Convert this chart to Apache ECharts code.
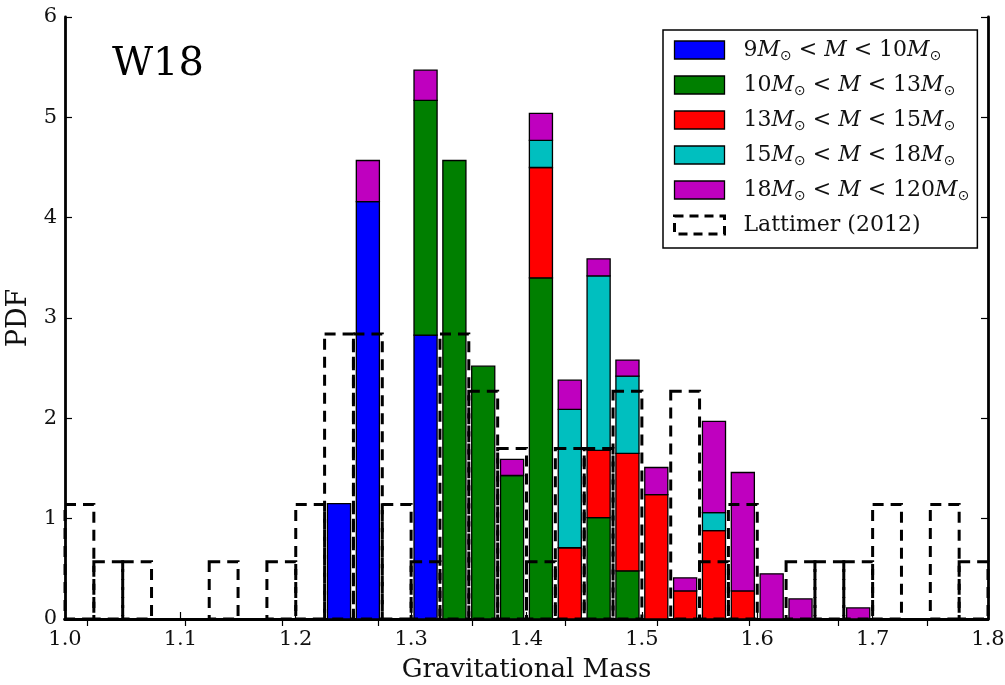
<!DOCTYPE html>
<html>
<head>
<meta charset="utf-8">
<script src="https://cdn.jsdelivr.net/npm/echarts@6/dist/echarts.min.js"></script>
<style>
html,body{margin:0;padding:0;background:#fff;}
#chart{width:1005px;height:685px;}
</style>
</head>
<body>
<div id="chart"></div>
<script>
// ---------------- data ----------------
const binCenters = [1.2375, 1.2625, 1.2875, 1.3125, 1.3375, 1.3625, 1.3875, 1.4125, 1.4375, 1.4625, 1.4875, 1.5125, 1.5375, 1.5625, 1.5875, 1.6125, 1.6375, 1.6625, 1.6875];
const pdf9to10   = [1.15, 4.16, 0, 2.83, 0, 0, 0, 0, 0, 0, 0, 0, 0, 0, 0, 0, 0, 0, 0];
const pdf10to13  = [0, 0, 0, 2.34, 4.57, 2.52, 1.43, 3.40, 0, 1.01, 0.48, 0, 0, 0, 0, 0, 0, 0, 0];
const pdf13to15  = [0, 0, 0, 0, 0, 0, 0, 1.10, 0.71, 0.67, 1.17, 1.24, 0.28, 0.88, 0.28, 0, 0, 0, 0];
const pdf15to18  = [0, 0, 0, 0, 0, 0, 0, 0.27, 1.38, 1.74, 0.77, 0, 0, 0.18, 0, 0, 0, 0, 0];
const pdf18to120 = [0, 0.41, 0, 0.30, 0, 0, 0.16, 0.27, 0.29, 0.17, 0.16, 0.27, 0.13, 0.91, 1.18, 0.45, 0.20, 0, 0.11];

const lattimerBinStarts = [1.000, 1.025, 1.050, 1.075, 1.100, 1.125, 1.150, 1.175, 1.200, 1.225, 1.250, 1.275, 1.300, 1.325, 1.350, 1.375, 1.400, 1.425, 1.450, 1.475, 1.500, 1.525, 1.550, 1.575, 1.600, 1.625, 1.650, 1.675, 1.700, 1.725, 1.750, 1.775];
const lattimerPdf = [1.14, 0.57, 0.57, 0, 0, 0.57, 0, 0.57, 1.14, 2.84, 2.84, 1.14, 0.57, 2.84, 2.27, 1.70, 0.57, 1.70, 1.70, 2.27, 0, 2.27, 0.57, 1.14, 0, 0.57, 0.57, 0.57, 1.14, 0, 1.14, 0.57];

const xTicks = [1.0, 1.1, 1.2, 1.3, 1.4, 1.5, 1.6, 1.7, 1.8];
const yTicks = [0, 1, 2, 3, 4, 5, 6];
const topTicks = [1.0193, 1.1043, 1.1880, 1.2711, 1.3530, 1.4338, 1.5134, 1.5927, 1.6703, 1.7476];

const classNames = ['9-10', '10-13', '13-15', '15-18', '18-120'];
const classLabels = [
  '9{i|M}{s|⊙} < {i|M} < 10{i|M}{s|⊙}',
  '10{i|M}{s|⊙} < {i|M} < 13{i|M}{s|⊙}',
  '13{i|M}{s|⊙} < {i|M} < 15{i|M}{s|⊙}',
  '15{i|M}{s|⊙} < {i|M} < 18{i|M}{s|⊙}',
  '18{i|M}{s|⊙} < {i|M} < 120{i|M}{s|⊙}'
];
const lattimerName = 'Lattimer (2012)';
// ---------------------------------------

const classValues = [pdf9to10, pdf10to13, pdf13to15, pdf15to18, pdf18to120];
const classColors = ['#0000ff', '#007f00', '#ff0000', '#00bfbf', '#bf00bf'];
const BIN = 0.025, RW = 0.8;
const SERIF = '"DejaVu Serif", "Liberation Serif", serif';

const cum = binCenters.map(() => 0);
const barSeries = classValues.map((vals, k) => {
  const data = binCenters.map((c, i) => {
    const base = cum[i];
    cum[i] += vals[i];
    return [c, base, vals[i]];
  });
  const color = classColors[k];
  return {
    name: classNames[k],
    type: 'custom',
    z: 2,
    itemStyle: { color: color },
    data: data,
    renderItem: function (params, api) {
      const h = api.value(2);
      if (!(h > 0)) return null;
      const x = api.value(0), b = api.value(1);
      const p0 = api.coord([x - BIN * RW / 2, b]);
      const p1 = api.coord([x + BIN * RW / 2, b + h]);
      return {
        type: 'rect',
        shape: { x: p0[0], y: p1[1], width: p1[0] - p0[0], height: p0[1] - p1[1] },
        style: { fill: color, stroke: '#000', lineWidth: 1.3 }
      };
    }
  };
});

const latSeries = {
  name: lattimerName,
  type: 'custom',
  z: 3,
  itemStyle: { color: '#000' },
  data: lattimerBinStarts.map((s, i) => [s, lattimerPdf[i]]),
  renderItem: function (params, api) {
    const v = api.value(1);
    if (!(v > 0)) return null;
    const s = api.value(0);
    const p0 = api.coord([s, 0]);
    const p1 = api.coord([s + BIN, v]);
    return {
      type: 'rect',
      shape: { x: p0[0], y: p1[1], width: p1[0] - p0[0], height: p0[1] - p1[1] },
      style: { fill: null, stroke: '#000', lineWidth: 3, lineDash: [11, 7] }
    };
  }
};

const labelMap = {};
classNames.forEach((n, i) => labelMap[n] = classLabels[i]);
labelMap[lattimerName] = lattimerName;

const chart = echarts.init(document.getElementById('chart'), null, { renderer: 'canvas' });
const axisLine = { show: true, lineStyle: { color: '#000', width: 2.8 } };
chart.setOption({
  animation: false,
  backgroundColor: '#fff',
  grid: { left: 65, right: 17, top: 17, bottom: 66, containLabel: false, outerBoundsMode: 'none' },
  xAxis: [
    {
      type: 'value', position: 'bottom', min: 1.0, max: 1.8, interval: 0.1,
      axisLine: axisLine,
      axisTick: { show: true, inside: true, length: 7, lineStyle: { color: '#000', width: 1.2 } },
      axisLabel: { color: '#111', fontFamily: SERIF, fontSize: 21, margin: 10,
        formatter: v => { const t = xTicks.find(x => Math.abs(x - v) < 1e-6); return t === undefined ? '' : t.toFixed(1); } },
      splitLine: { show: false },
      name: 'Gravitational Mass', nameLocation: 'middle', nameGap: 38,
      nameTextStyle: { color: '#111', fontFamily: SERIF, fontSize: 26 }
    },
    {
      type: 'value', position: 'top', min: 1.0, max: 1.8,
      axisLine: axisLine,
      axisTick: { show: true, inside: true, length: 7, customValues: topTicks, lineStyle: { color: '#000', width: 1.2 } },
      axisLabel: { show: false },
      splitLine: { show: false }
    }
  ],
  yAxis: [
    {
      type: 'value', position: 'left', min: 0, max: 6, interval: 1,
      axisLine: axisLine,
      axisTick: { show: true, inside: true, length: 7, lineStyle: { color: '#000', width: 1.2 } },
      axisLabel: { color: '#111', fontFamily: SERIF, fontSize: 21, margin: 8,
        formatter: v => { const t = yTicks.find(y => Math.abs(y - v) < 1e-6); return t === undefined ? '' : String(t); } },
      splitLine: { show: false },
      name: 'PDF', nameLocation: 'middle', nameGap: 33, nameRotate: 90,
      nameTextStyle: { color: '#111', fontFamily: SERIF, fontSize: 27 }
    },
    {
      type: 'value', position: 'right', min: 0, max: 6, interval: 1,
      axisLine: axisLine,
      axisTick: { show: true, inside: true, length: 7, lineStyle: { color: '#000', width: 1.2 } },
      axisLabel: { show: false },
      splitLine: { show: false }
    }
  ],
  legend: {
    orient: 'vertical',
    left: 663, top: 30,
    padding: [7, 8, 10, 10],
    itemWidth: 50, itemHeight: 18, itemGap: 9,
    borderColor: '#000', borderWidth: 1.5, borderRadius: 0,
    backgroundColor: '#fff',
    selectedMode: false,
    data: classNames.map((n, i) => ({
      name: n, icon: 'rect',
      itemStyle: { color: classColors[i], borderColor: '#000', borderWidth: 1.3 }
    })).concat([{
      name: lattimerName, icon: 'rect',
      itemStyle: { color: '#fff', borderColor: '#000', borderWidth: 3, borderType: [9, 6] }
    }]),
    formatter: function (name) { return '{g|}' + labelMap[name]; },
    textStyle: {
      color: '#111', fontFamily: SERIF, fontSize: 22, lineHeight: 26,
      rich: {
        g: { width: 14 },
        i: { fontStyle: 'italic', fontFamily: SERIF, fontSize: 22, lineHeight: 26, color: '#111' },
        s: { fontSize: 14, lineHeight: 13, verticalAlign: 'bottom', fontFamily: '"DejaVu Sans", sans-serif', color: '#111' }
      }
    }
  },
  graphic: [
    { type: 'text', left: 112, top: 45, z: 10,
      style: { text: 'W18', font: '40px ' + SERIF, fill: '#000' } }
  ],
  series: barSeries.concat([latSeries])
});
</script>
</body>
</html>
